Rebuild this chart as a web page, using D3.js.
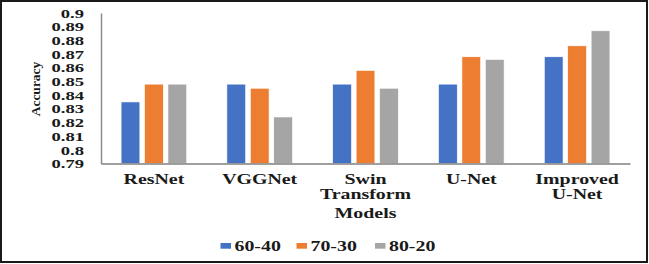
<!DOCTYPE html>
<html>
<head>
<meta charset="utf-8">
<script src="https://cdn.jsdelivr.net/npm/d3@7"></script>
<style>
  body { margin: 0; background: #fff; }
  text { font-family: "Liberation Serif", "Times New Roman", serif; font-weight: bold; fill: #1a1a1a; }
</style>
</head>
<body>
<div id="chart"></div>
<script>
// chart values
const categories = ["ResNet", "VGGNet", "Swin Transform", "U-Net", "Improved U-Net"];
const categoryLines = [["ResNet"], ["VGGNet"], ["Swin", "Transform"], ["U-Net"], ["Improved", "U-Net"]];
const seriesNames = ["60-40", "70-30", "80-20"];
const split6040 = [0.835, 0.848, 0.848, 0.848, 0.868];
const split7030 = [0.848, 0.845, 0.858, 0.868, 0.876];
const split8020 = [0.848, 0.824, 0.845, 0.866, 0.887];
const yTicks = [0.79, 0.8, 0.81, 0.82, 0.83, 0.84, 0.85, 0.86, 0.87, 0.88, 0.89, 0.9];
const colors = ["#4472C4", "#ED7D31", "#A5A5A5"];

const width = 649;
const height = 264;
const margin = {top: 13, right: 19, bottom: 100.5, left: 101};
const stretch = 1.42; // the picture is widened, so is its text

const svg = d3.select("#chart").append("svg")
  .attr("width", width)
  .attr("height", height);

// outer frame
svg.append("rect")
  .attr("x", 1).attr("y", 1)
  .attr("width", width - 3).attr("height", height - 3)
  .attr("fill", "none")
  .attr("stroke", "#1a1a1a")
  .attr("stroke-width", 2);

const plotW = width - margin.left - margin.right;
const plotH = height - margin.top - margin.bottom;

const g = svg.append("g")
  .attr("transform", `translate(${margin.left},${margin.top})`);

const x0 = d3.scaleBand().domain(categories).range([0, plotW]).paddingInner(0.38).paddingOuter(0.19);
const x1 = d3.scaleBand().domain(seriesNames).range([0, x0.bandwidth()]).paddingInner(0.2);
const y = d3.scaleLinear().domain([0.79, 0.9]).range([plotH, 0]);

const series = [split6040, split7030, split8020];
const rows = [];
categories.forEach((c, i) => {
  seriesNames.forEach((s, j) => {
    rows.push({cat: c, name: s, value: series[j][i], color: colors[j]});
  });
});

g.selectAll(".bar")
  .data(rows)
  .enter()
  .append("rect")
    .attr("class", "bar")
    .attr("x", d => x0(d.cat) + x1(d.name))
    .attr("y", d => y(d.value))
    .attr("width", x1.bandwidth())
    .attr("height", d => plotH - y(d.value))
    .attr("fill", d => d.color)
    .attr("stroke", "#ffffff")
    .attr("stroke-width", 0.6);

// y axis
const yAxis = g.append("g")
  .call(d3.axisLeft(y).tickValues(yTicks).tickSize(0).tickFormat(d => String(d)));
yAxis.select(".domain").attr("stroke", "#8c8c8c").attr("stroke-width", 1.5);
yAxis.selectAll("text")
  .attr("x", 0)
  .attr("dy", "0.35em")
  .attr("transform", "translate(-17,0) scale(1.55,1)")
  .style("font-size", "12px")
  .style("font-family", "'Liberation Serif', serif")
  .attr("fill", "#1a1a1a");

// x axis
const xAxis = g.append("g")
  .attr("transform", `translate(0,${plotH})`)
  .call(d3.axisBottom(x0).tickSize(0).tickFormat(""));
xAxis.select(".domain").attr("stroke", "#7f7f7f").attr("stroke-width", 1.5);
xAxis.selectAll(".tick").each(function(d, i) {
  const t = d3.select(this).append("text")
    .attr("text-anchor", "middle")
    .attr("transform", `translate(0,20) scale(${stretch},1)`)
    .style("font-size", "14px");
  categoryLines[i].forEach((line, k) => {
    t.append("tspan").attr("x", 0).attr("y", k * 16).text(line);
  });
});

// axis titles
svg.append("text")
  .attr("text-anchor", "middle")
  .attr("transform", `translate(${margin.left + x0("Swin Transform") + x0.bandwidth() / 2},218) scale(${stretch},1)`)
  .style("font-size", "14px")
  .text("Models");

svg.append("text")
  .attr("text-anchor", "middle")
  .attr("transform", "translate(40,89) rotate(-90)")
  .style("font-size", "13.5px")
  .text("Accuracy");

// legend
const legendX = [220.5, 296.5, 375];
const legend = svg.selectAll(".legend")
  .data(seriesNames)
  .enter()
  .append("g")
    .attr("class", "legend")
    .attr("transform", (d, i) => `translate(${legendX[i]},243)`);
legend.append("rect")
  .attr("width", 10.5).attr("height", 5.7)
  .attr("fill", (d, i) => colors[i]);
legend.append("text")
  .attr("transform", `translate(14,7.7) scale(${stretch},1)`)
  .style("font-size", "14px")
  .text(d => d);
</script>
</body>
</html>
